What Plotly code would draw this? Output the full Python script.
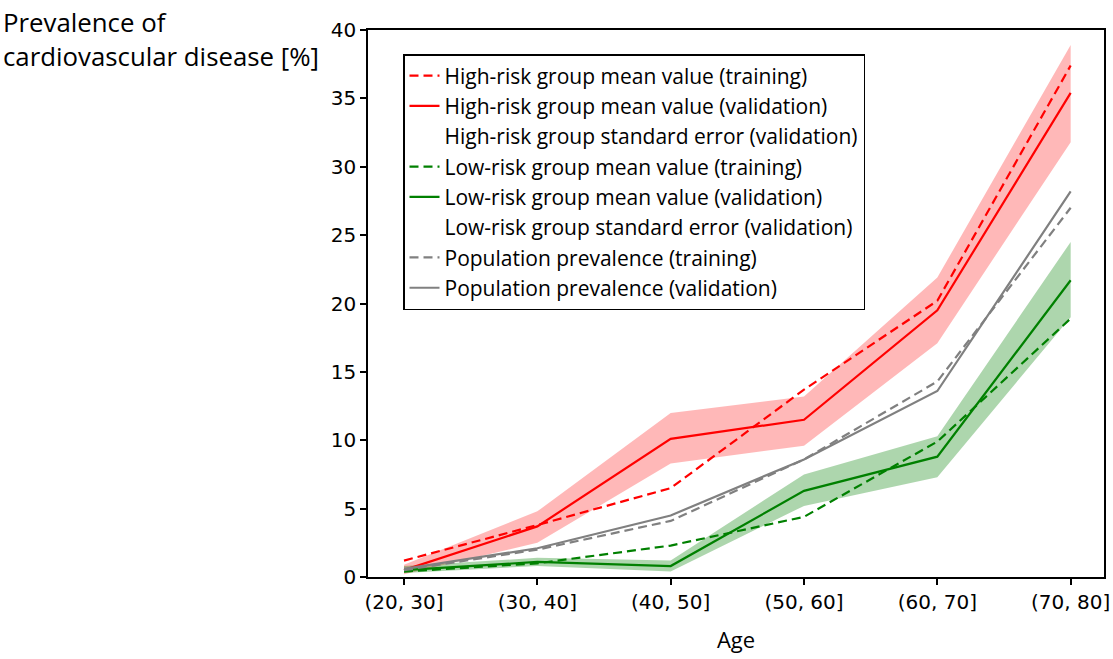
import plotly.graph_objects as go

age_groups = ["(20, 30]", "(30, 40]", "(40, 50]", "(50, 60]", "(60, 70]", "(70, 80]"]

high_train = [1.2, 3.8, 6.5, 13.7, 20.2, 37.4]
high_valid = [0.5, 3.7, 10.1, 11.5, 19.5, 35.4]
high_valid_upper = [0.9, 4.8, 12.0, 13.2, 21.9, 38.9]
high_valid_lower = [0.2, 2.5, 8.3, 9.6, 17.1, 31.8]

low_train = [0.4, 1.0, 2.3, 4.4, 9.9, 18.9]
low_valid = [0.5, 1.1, 0.8, 6.3, 8.8, 21.7]
low_valid_upper = [0.8, 1.4, 1.2, 7.5, 10.3, 24.5]
low_valid_lower = [0.3, 0.8, 0.4, 5.2, 7.3, 19.0]

pop_train = [0.5, 2.0, 4.1, 8.6, 14.3, 27.0]
pop_valid = [0.6, 2.1, 4.5, 8.6, 13.6, 28.2]

y_ticks = [0, 5, 10, 15, 20, 25, 30, 35, 40]

RED = "#ff0000"
GREEN = "#008000"
GRAY = "#808080"
DASH = "9px,5px"
TEXT_FONT = "Open Sans"
TICK_FONT = "DejaVu Sans"

fig = go.Figure()

def band(lower, upper, fillcolor):
    fig.add_trace(go.Scatter(x=age_groups, y=upper, mode="lines", line=dict(width=0),
                             showlegend=False, hoverinfo="skip"))
    fig.add_trace(go.Scatter(x=age_groups, y=lower, mode="lines", line=dict(width=0),
                             fill="tonexty", fillcolor=fillcolor, showlegend=False, hoverinfo="skip"))

band(high_valid_lower, high_valid_upper, "rgba(255,0,0,0.28)")
band(low_valid_lower, low_valid_upper, "rgba(0,128,0,0.32)")

def line(y, color, dash, name):
    fig.add_trace(go.Scatter(x=age_groups, y=y, mode="lines", name=name,
                             line=dict(color=color, width=2.2, dash=dash)))

def blank(name):
    fig.add_trace(go.Scatter(x=[None], y=[None], mode="lines", name=name,
                             line=dict(color="rgba(0,0,0,0)", width=0)))

line(high_train, RED, DASH, "High-risk group mean value (training)")
line(high_valid, RED, "solid", "High-risk group mean value (validation)")
blank("High-risk group standard error (validation)")
line(low_train, GREEN, DASH, "Low-risk group mean value (training)")
line(low_valid, GREEN, "solid", "Low-risk group mean value (validation)")
blank("Low-risk group standard error (validation)")
line(pop_train, GRAY, DASH, "Population prevalence (training)")
line(pop_valid, GRAY, "solid", "Population prevalence (validation)")

axis_common = dict(showline=True, linecolor="black", linewidth=1.5, mirror=True,
                   ticks="outside", ticklen=6, tickcolor="black", tickwidth=1.5,
                   showgrid=False, zeroline=False, automargin=False,
                   tickfont=dict(family=TICK_FONT, size=20, color="black"))

PLOT_W = 736
PLOT_H = 547
ML, MT = 368, 30

fig.update_layout(
    width=1113, height=659,
    margin=dict(l=ML, r=9, t=MT, b=82, autoexpand=False),
    plot_bgcolor="white", paper_bgcolor="white",
    font=dict(family=TEXT_FONT, color="black"),
    xaxis=dict(range=[-0.27, 5.25],
               title=dict(text="Age", font=dict(family=TEXT_FONT, size=22), standoff=20),
               **axis_common),
    yaxis=dict(range=[0, 40], tickvals=y_ticks, **axis_common),
    legend=dict(x=35 / PLOT_W, y=1 - 24 / PLOT_H, xanchor="left", yanchor="top",
                bordercolor="black", borderwidth=1.5, bgcolor="white",
                font=dict(family=TEXT_FONT, size=21, color="black"),
                tracegroupgap=0, itemwidth=30, traceorder="normal"),
    annotations=[dict(text="Prevalence of<br>cardiovascular disease [%]", xref="paper", yref="paper",
                      x=-(ML - 1) / PLOT_W, y=1 + (MT - 2) / PLOT_H, xanchor="left", yanchor="top",
                      align="left", showarrow=False,
                      font=dict(family=TEXT_FONT, size=25.8, color="black"))],
)

fig.write_html("out.html", config={"displayModeBar": False},
               post_script="document.body.style.margin='0';document.body.style.overflow='hidden';")
